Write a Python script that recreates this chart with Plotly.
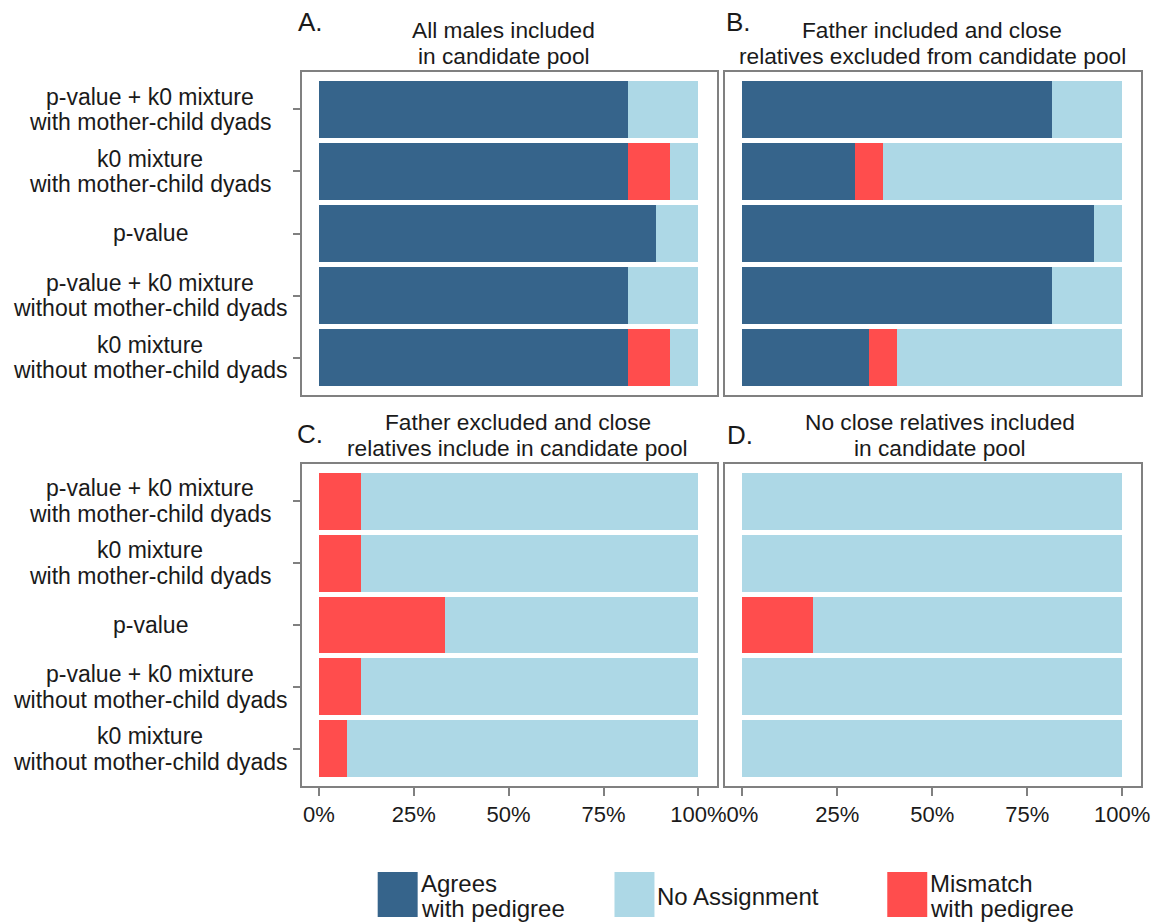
import plotly.graph_objects as go

W, H = 1159, 922

categories = [
    "p-value + k0 mixture<br>with mother-child dyads",
    "k0 mixture<br>with mother-child dyads",
    "p-value",
    "p-value + k0 mixture<br>without mother-child dyads",
    "k0 mixture<br>without mother-child dyads",
]

series_names = ["Agrees<br>with pedigree", "Mismatch<br>with pedigree", "No Assignment"]
series_colors = ["#36648B", "#FF4D4D", "#ADD8E6"]

panel_letters = ["A.", "B.", "C.", "D."]
panel_titles = [
    "All males included<br>in candidate pool",
    "Father included and close<br>relatives excluded from candidate pool",
    "Father excluded and close<br>relatives include in candidate pool",
    "No close relatives included<br>in candidate pool",
]

A_agree = [81.5, 81.5, 88.9, 81.5, 81.5]
A_mismatch = [0.0, 11.1, 0.0, 0.0, 11.1]
A_none = [18.5, 7.4, 11.1, 18.5, 7.4]

B_agree = [81.5, 29.6, 92.6, 81.5, 33.3]
B_mismatch = [0.0, 7.4, 0.0, 0.0, 7.4]
B_none = [18.5, 63.0, 7.4, 18.5, 59.3]

C_agree = [0.0, 0.0, 0.0, 0.0, 0.0]
C_mismatch = [11.1, 11.1, 33.3, 11.1, 7.4]
C_none = [88.9, 88.9, 66.7, 88.9, 92.6]

D_agree = [0.0, 0.0, 0.0, 0.0, 0.0]
D_mismatch = [0.0, 0.0, 18.5, 0.0, 0.0]
D_none = [100.0, 100.0, 81.5, 100.0, 100.0]

x_tickvals = [0, 25, 50, 75, 100]
x_ticktext = ["0%", "25%", "50%", "75%", "100%"]

panels = [
    (A_agree, A_mismatch, A_none),
    (B_agree, B_mismatch, B_none),
    (C_agree, C_mismatch, C_none),
    (D_agree, D_mismatch, D_none),
]

FONT = "Liberation Sans, Arial, Helvetica, sans-serif"
TXT = "#1a1a1a"
LINE_H = 25.5
KX = 1.007  # horizontal compensation


def px(x):
    return x * KX / W


def py(y):
    return 1 - y / H


x_domains = [(302, 718), (726, 1142)]
y_domains = [(72, 395), (464, 786)]
title_cx = [504, 933, 518, 941]
letter_pos = [(298, 22), (727, 22), (297, 434), (728, 434.5)]

fig = go.Figure()

for i, vals in enumerate(panels):
    n = i + 1
    xa = "x" if n == 1 else f"x{n}"
    ya = "y" if n == 1 else f"y{n}"
    for name, color, v in zip(series_names, series_colors, vals):
        fig.add_trace(go.Bar(
            y=categories, x=v, orientation="h", name=name,
            marker=dict(color=color, line=dict(width=0)),
            xaxis=xa, yaxis=ya, showlegend=False,
        ))


def multiline(text, x, y, xref, yref, size, xanchor="center"):
    lines = text.split("<br>")
    nl = len(lines)
    for k, line in enumerate(lines):
        shift = ((nl - 1) / 2 - k) * LINE_H
        fig.add_annotation(
            x=x, y=y, xref=xref, yref=yref, text=line, yshift=shift,
            showarrow=False, xanchor=xanchor, yanchor="middle",
            font=dict(family=FONT, size=size, color=TXT),
        )


for i in range(4):
    n = i + 1
    r, c = divmod(i, 2)
    xd = x_domains[c]
    yd = y_domains[r]
    xkey = "xaxis" if n == 1 else f"xaxis{n}"
    ykey = "yaxis" if n == 1 else f"yaxis{n}"
    ya_short = "y" if n == 1 else f"y{n}"
    xa_short = "x" if n == 1 else f"x{n}"
    fig.layout[xkey] = dict(
        domain=[px(xd[0]), px(xd[1])], range=[-4.5, 105], anchor=ya_short,
        showgrid=False, zeroline=False, showline=True, mirror=True,
        linecolor="#808080", linewidth=1.5,
        tickvals=x_tickvals, ticktext=x_ticktext,
        showticklabels=(r == 1), ticks="outside" if r == 1 else "",
        ticklen=8, tickcolor="#808080", tickwidth=1.5,
        tickfont=dict(family=FONT, size=22, color=TXT), fixedrange=True,
    )
    fig.layout[ykey] = dict(
        domain=[py(yd[1]), py(yd[0])], anchor=xa_short,
        type="category", categoryorder="array", categoryarray=categories,
        range=[4.6, -0.6], showgrid=False, zeroline=False,
        showline=True, mirror=True, linecolor="#808080", linewidth=1.5,
        showticklabels=False, ticks="outside" if c == 0 else "",
        ticklen=7, tickcolor="#808080", tickwidth=1.5, fixedrange=True,
    )
    # panel letter
    lx, ly = letter_pos[i]
    fig.add_annotation(
        x=px(lx - 2), y=py(ly),
        xref="paper", yref="paper", text=panel_letters[i],
        showarrow=False, xanchor="left", yanchor="middle",
        font=dict(family=FONT, size=26, color=TXT),
    )
    # panel title (two lines)
    multiline(panel_titles[i], px(title_cx[i]), py(yd[0] - 29),
              "paper", "paper", 22.7)
    if c == 0:
        for cat in categories:
            multiline(cat, px(150.5), cat, "paper", ya_short, 23)

# legend drawn as keys + labels
legend_items = [
    (series_names[0], series_colors[0], 378),
    (series_names[2], series_colors[2], 615),
    (series_names[1], series_colors[1], 888),
]
for name, color, x0 in legend_items:
    fig.add_shape(type="rect", xref="paper", yref="paper",
                  x0=px(x0), x1=px(x0 + 40), y0=py(917), y1=py(872),
                  fillcolor=color, line=dict(width=0))
    multiline(name, px(x0 + 41), py(896), "paper", "paper", 24, xanchor="left")

fig.update_layout(
    width=W, height=H, margin=dict(l=0, r=0, t=0, b=0),
    barmode="stack", bargap=0.08, plot_bgcolor="white", paper_bgcolor="white",
    font=dict(family=FONT, size=20, color=TXT), showlegend=False,
)

fig.write_html("out.html")
